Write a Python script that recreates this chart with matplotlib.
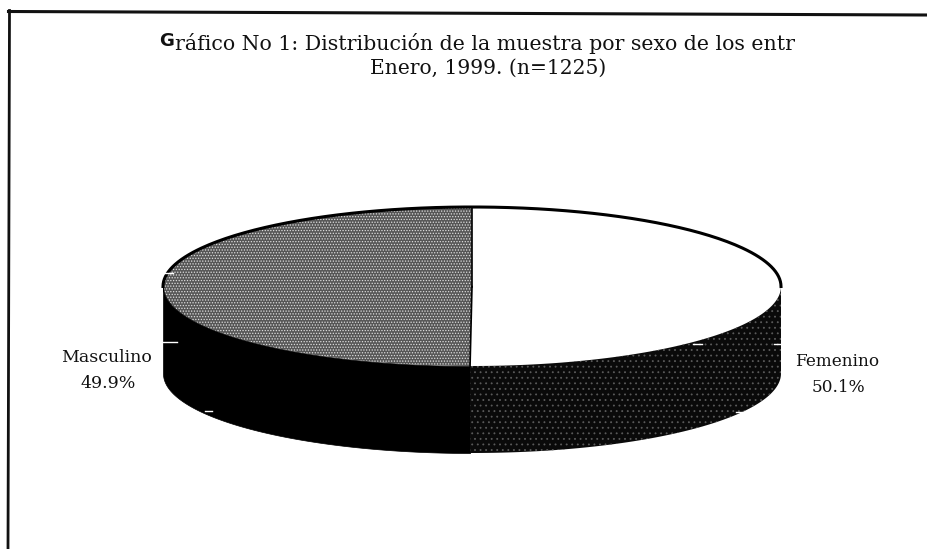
"""
Grafico No 1 - pie with a 3D look, scanned document style
"""
import numpy as np
import matplotlib
matplotlib.use('Agg')
import matplotlib.pyplot as plt
from matplotlib.lines import Line2D

labels = ['Femenino', 'Masculino']
shares = [50.1, 49.9]
title_lines = ['ráfico No 1: Distribución de la muestra por sexo de los entr',
               'Enero, 1999. (n=1225)']

W, H = 927, 549
plt.rcParams['font.family'] = ['DejaVu Serif']
plt.rcParams['hatch.linewidth'] = 0.6

fig = plt.figure(figsize=(W / 100, H / 100), dpi=100, facecolor='white')

# frame of the scanned page, slightly skewed, no bottom or right line
fig.add_artist(Line2D([9.5 / W, 8 / W], [1 - 10.5 / H, 0], color='#111111', lw=2))
fig.add_artist(Line2D([8.5 / W, 1], [1 - 11.5 / H, 1 - 15 / H], color='#111111', lw=2.2))

# axes placed so the unit circle lands on the top ellipse
x0, x1, y_top, y_bot = 163, 781, 207, 366
depth = 87 / ((y_bot - y_top) / 2)
sx = (x1 - x0) / 2
sy = (y_bot - y_top) / 2
cx = (x0 + x1) / 2
cy = (y_top + y_bot) / 2
pad = 1.1
ax = fig.add_axes([(cx - pad * sx) / W, 1 - (cy + (1 + depth + 0.1) * sy) / H,
                   2 * pad * sx / W, (1 + depth + 0.1 + pad) * sy / H])

wedges, _ = ax.pie(shares, startangle=90, counterclock=False, radius=1,
                   colors=['white', '#565656'], wedgeprops={'linewidth': 0})
ax.set_aspect('auto')
ax.set_xlim(-pad, pad)
ax.set_ylim(-1 - depth - 0.1, pad)
wedges[1].set_edgecolor('#dedede')
wedges[1].set_hatch('......')
wedges[0].set_edgecolor('white')

# side wall, split where the slices meet
split = np.deg2rad(90 - 360 * shares[0] / sum(shares))
t_right = np.linspace(0, split, 80)
t_left = np.linspace(split, -np.pi, 80)
ax.fill_between(np.cos(t_left), np.sin(t_left), np.sin(t_left) - depth,
                color='black', lw=0.5, zorder=3)
ax.fill_between(np.cos(t_right), np.sin(t_right), np.sin(t_right) - depth,
                facecolor='#0a0a0a', edgecolor='#5a5a5a', hatch='...', lw=0, zorder=3)

# outlines
t = np.linspace(0, np.pi, 200)
ax.plot(np.cos(t), np.sin(t), color='black', lw=2.2, zorder=4)
ax.plot([0, 0], [0, 1], color='black', lw=1.2, zorder=4)
ax.plot([0, np.cos(split)], [0, np.sin(split)], color='black', lw=1.2, zorder=4)
ax.axis('off')

# little white scan marks across the edges of the pie
for mx0, mx1, my in [(163, 173, 273), (163, 177, 342), (205, 212, 411),
                     (774, 781, 344), (693, 702, 344), (736, 742, 412)]:
    fig.add_artist(Line2D([mx0 / W, mx1 / W], [1 - my / H, 1 - my / H], color='white', lw=1))

fig.text(159 / W, 1 - 41 / H, 'G', fontsize=13, fontweight='bold', ha='left', va='center',
         family='DejaVu Sans', color='#111111')
fig.text(175 / W, 1 - 44 / H, title_lines[0], fontsize=14.8, ha='left', va='center', color='#111111')
fig.text(488 / W, 1 - 68 / H, title_lines[1], fontsize=14.6, ha='center', va='center', color='#111111')

fig.text(107 / W, 1 - 357 / H, labels[1], fontsize=12.5, ha='center', va='center', color='#111111')
fig.text(108 / W, 1 - 383 / H, f'{shares[1]}%', fontsize=12.5, ha='center', va='center', color='#111111')
fig.text(837 / W, 1 - 362 / H, labels[0], fontsize=12.2, ha='center', va='center', color='#111111')
fig.text(838 / W, 1 - 387 / H, f'{shares[0]}%', fontsize=12.2, ha='center', va='center', color='#111111')

fig.savefig('out.png', dpi=100)
